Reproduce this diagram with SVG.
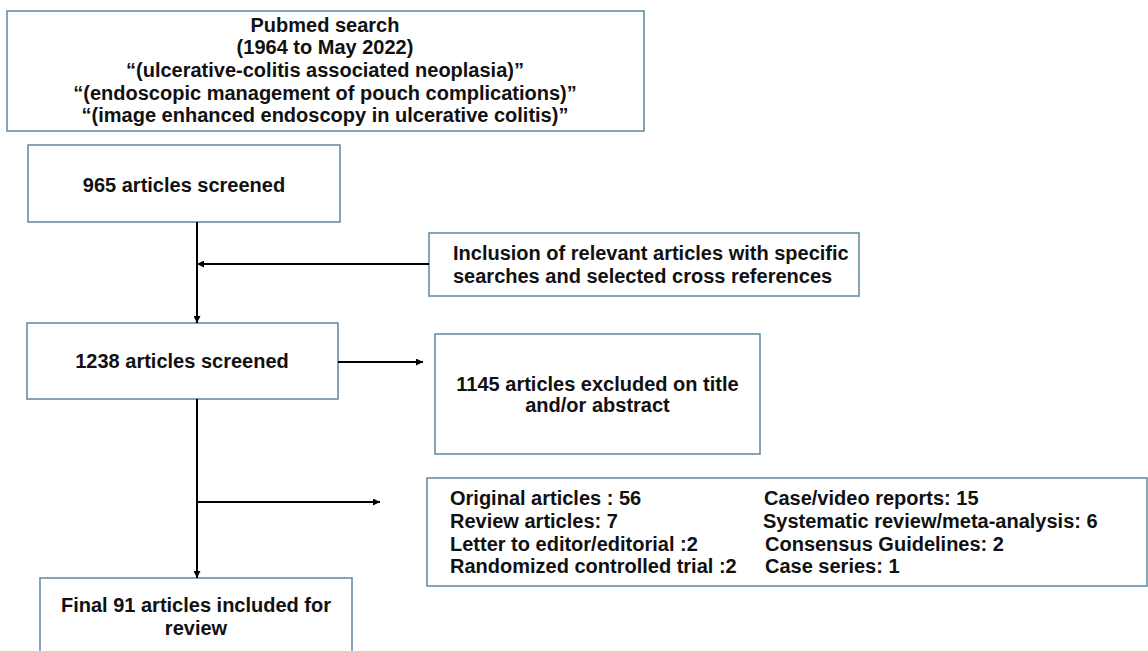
<svg xmlns="http://www.w3.org/2000/svg" width="1148" height="651" viewBox="0 0 1148 651">
<defs>
<marker id="ah" viewBox="0 0 10 10" refX="10" refY="5" markerWidth="8" markerHeight="7" markerUnits="userSpaceOnUse" orient="auto">
<path d="M0,0 L10,5 L0,10 z" fill="#000"/>
</marker>
<style>
.box{fill:#fff;stroke:#6a8ea5;stroke-width:1.6}
text{font-family:"Liberation Sans",Arial,sans-serif;font-weight:bold;font-size:20px;fill:#111}
.c{text-anchor:middle}
.conn line{stroke:#000;stroke-width:2}
</style>
</defs>
<rect width="1148" height="651" fill="#fff"/>
<g id="pubmed">
<rect class="box" x="7" y="11" width="637" height="120"/>
<text class="c" x="325" y="31.5">Pubmed search</text>
<text class="c" x="325" y="54">(1964 to May 2022)</text>
<text class="c" x="325" y="77">“(ulcerative-colitis associated neoplasia)”</text>
<text class="c" x="325" y="99.5">“(endoscopic management of pouch complications)”</text>
<text class="c" x="325" y="122">“(image enhanced endoscopy in ulcerative colitis)”</text>
</g>
<g id="screened965">
<rect class="box" x="28" y="145" width="312" height="77"/>
<text class="c" x="184" y="192">965 articles screened</text>
</g>
<g id="inclusion">
<rect class="box" x="429" y="233" width="430" height="63"/>
<text x="453" y="260">Inclusion of relevant articles with specific</text>
<text x="453" y="283">searches and selected cross references</text>
</g>
<g id="screened1238">
<rect class="box" x="27" y="323" width="311" height="76"/>
<text class="c" x="182" y="368">1238 articles screened</text>
</g>
<g id="excluded">
<rect class="box" x="435" y="334" width="325" height="120"/>
<text class="c" x="597.5" y="391">1145 articles excluded on title</text>
<text class="c" x="597.5" y="412">and/or abstract</text>
</g>
<g id="categories">
<rect class="box" x="427" y="478" width="720" height="108"/>
<text x="450" y="505">Original articles : 56</text>
<text x="450" y="528">Review articles: 7</text>
<text x="450" y="551">Letter to editor/editorial :2</text>
<text x="450" y="573">Randomized controlled trial :2</text>
<text x="764" y="505">Case/video reports: 15</text>
<text x="763" y="528">Systematic review/meta-analysis: 6</text>
<text x="765" y="551">Consensus Guidelines: 2</text>
<text x="765" y="573">Case series: 1</text>
</g>
<g id="final">
<rect class="box" x="40" y="578" width="312" height="90"/>
<text class="c" x="196" y="612">Final 91 articles included for</text>
<text class="c" x="196" y="635">review</text>
</g>
<g class="conn" id="connectors">
<line x1="197" y1="222" x2="197" y2="323" marker-end="url(#ah)"/>
<line x1="429" y1="264" x2="197" y2="264" marker-end="url(#ah)"/>
<line x1="338" y1="362" x2="423" y2="362" marker-end="url(#ah)"/>
<line x1="197" y1="399" x2="197" y2="578" marker-end="url(#ah)"/>
<line x1="197" y1="502" x2="380" y2="502" marker-end="url(#ah)"/>
</g>
</svg>
